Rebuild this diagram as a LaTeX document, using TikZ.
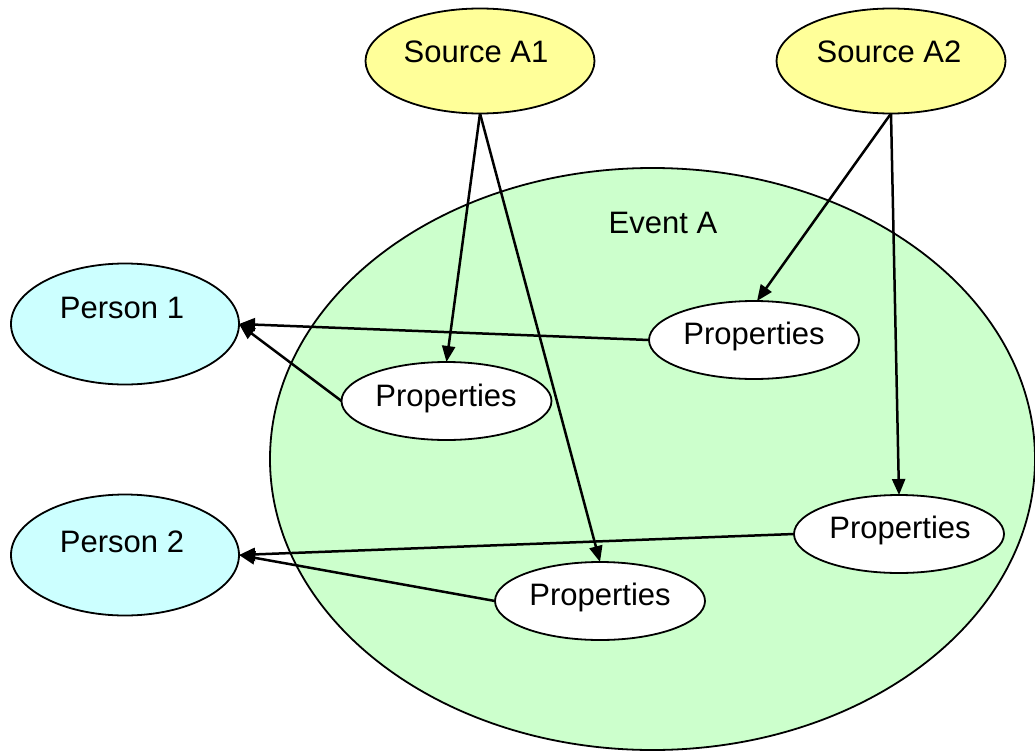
\documentclass[tikz,border=0pt]{standalone}
\usepackage{fontspec}
\setmainfont{Liberation Sans}
\usetikzlibrary{shapes.geometric,arrows.meta}
\definecolor{srcyellow}{HTML}{FFFF99}
\definecolor{personcyan}{HTML}{CCFFFF}
\definecolor{eventgreen}{HTML}{CCFFCC}
\tikzset{
  blob/.style={ellipse,draw=black,line width=1.8pt,inner sep=0pt,outer sep=0pt},
  srcbox/.style={blob,fill=srcyellow,minimum width=229pt,minimum height=105pt},
  personbox/.style={blob,fill=personcyan,minimum width=228pt,minimum height=121pt},
  propbox/.style={blob,fill=white,minimum width=210pt,minimum height=78pt},
  eventbox/.style={blob,fill=eventgreen,minimum width=765pt,minimum height=582pt},
  lbl/.style={font=\fontsize{31}{37}\selectfont,anchor=base,inner sep=0pt},
  conn/.style={line width=2.5pt,-{Triangle[length=16pt,width=13pt]}}
}
\begin{document}
\begin{tikzpicture}[x=1pt,y=-1pt]
\useasboundingbox (0,0) rectangle (1035,752);
% event
\node[eventbox] (event) at (652.5,459) {};
\node[lbl] (eventlbl) at (663,233) {Event A};
% sources
\node[srcbox] (srcA1) at (480,61) {};
\node[lbl] (srcA1lbl) at (476,63) {Source A1};
\node[srcbox] (srcA2) at (891,61) {};
\node[lbl] (srcA2lbl) at (889,63) {Source A2};
% persons
\node[personbox] (p1) at (125,324) {};
\node[lbl] (p1lbl) at (122,318) {Person 1};
\node[personbox] (p2) at (125,555) {};
\node[lbl] (p2lbl) at (122,552) {Person 2};
% properties
\node[propbox] (propL) at (446.5,401) {};
\node[lbl] (propLlbl) at (446,406) {Properties};
\node[propbox] (propTR) at (754,340) {};
\node[lbl] (propTRlbl) at (754,344) {Properties};
\node[propbox] (propRB) at (899,534) {};
\node[lbl] (propRBlbl) at (900,538) {Properties};
\node[propbox] (propB) at (600,601) {};
\node[lbl] (propBlbl) at (600,605) {Properties};
% connectors
\draw[conn] (srcA1.south) -- (propL.north);
\draw[conn] (srcA1.south) -- (propB.north);
\draw[conn] (srcA2.south) -- ([xshift=3pt]propTR.north);
\draw[conn] (srcA2.south) -- (propRB.north);
\draw[conn] (propTR.west) -- (p1.east);
\draw[conn] (propL.west) -- (p1.east);
\draw[conn] (propRB.west) -- (p2.east);
\draw[conn] (propB.west) -- (p2.east);
\end{tikzpicture}
\end{document}
